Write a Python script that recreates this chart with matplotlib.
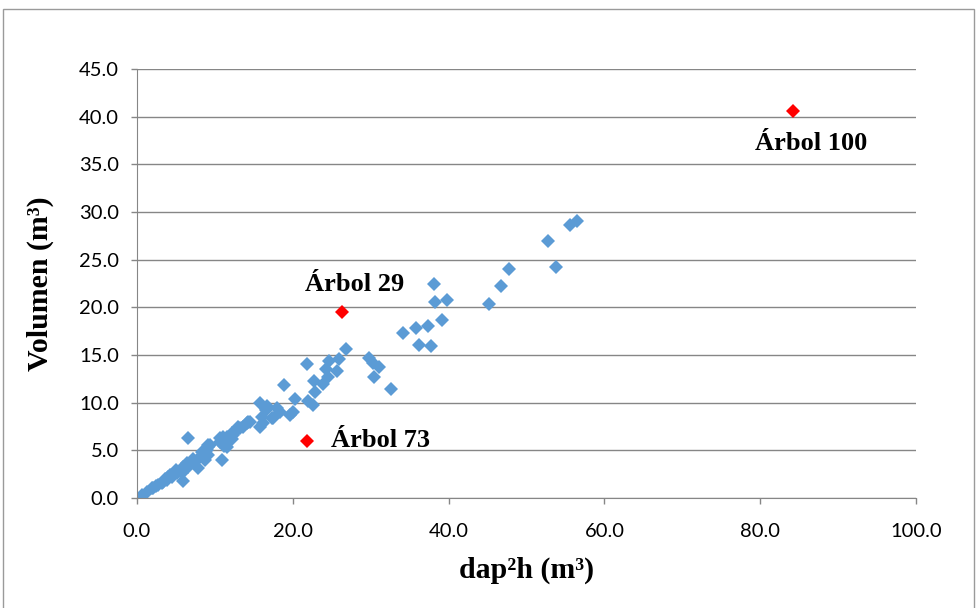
import matplotlib.pyplot as plt
from matplotlib.patches import Rectangle

# dap^2h (m3) vs volume (m3), regular trees
dap2h = [56.5, 55.6, 52.8, 53.8, 47.8, 46.7, 45.2, 38.1, 38.3, 39.8,
         39.2, 37.4, 35.8, 34.2, 36.2, 37.7, 32.6, 29.8, 30.3, 31.1,
         30.4, 26.8, 25.9, 24.6, 25.7, 24.3, 24.5, 23.9, 22.7, 22.8,
         21.8, 18.9, 20.3, 22.0, 22.6, 15.8, 16.7, 18.0, 18.4, 19.6,
         17.5, 16.2, 16.0, 17.3, 14.5, 15.8, 13.6, 13.0, 14.1, 13.2,
         12.8, 12.3, 12.2, 11.6, 11.0, 10.7, 11.9, 11.6, 11.2, 10.9,
         9.4, 9.1, 9.0, 8.7, 8.1, 8.7, 6.5, 7.8, 7.1, 6.5,
         6.4, 5.9, 5.8, 5.8, 5.9, 4.9, 5.1, 4.5, 4.0, 3.9,
         3.3, 3.2, 2.7, 2.1, 1.9, 1.3, 0.6, 8.3, 9.1, 9.1,
         14.2, 12.2, 10.7, 7.2, 5.0, 4.2, 3.6, 2.4, 16.5, 20.0]
volumen = [29.1, 28.6, 27.0, 24.2, 24.0, 22.2, 20.4, 22.4, 20.6, 20.8,
           18.7, 18.0, 17.8, 17.3, 16.1, 15.9, 11.4, 14.7, 14.2, 13.7,
           12.7, 15.6, 14.6, 14.4, 13.3, 13.5, 12.7, 12.0, 12.3, 11.1,
           14.1, 11.9, 10.4, 10.2, 9.8, 10.0, 9.6, 9.4, 9.0, 8.7,
           8.4, 7.9, 8.5, 8.4, 8.0, 7.5, 7.5, 7.5, 7.9, 7.3,
           7.1, 6.6, 6.8, 6.4, 6.4, 6.3, 6.1, 5.4, 5.5, 4.0,
           5.6, 5.6, 5.0, 5.0, 4.3, 4.0, 6.3, 3.1, 3.8, 3.3,
           3.7, 3.3, 2.6, 2.9, 1.8, 2.7, 2.6, 2.2, 2.2, 1.9,
           1.7, 1.6, 1.4, 1.0, 1.0, 0.6, 0.3, 4.8, 5.4, 4.5,
           8.0, 6.2, 5.9, 4.1, 2.9, 2.4, 2.0, 1.3, 9.2, 9.0]

# outlier trees
out_x = [84.2, 26.3, 21.8]
out_y = [40.6, 19.5, 6.0]
out_labels = ['Árbol 100', 'Árbol 29', 'Árbol 73']
label_pos = [(86.5, 37.2, 'center'), (27.9, 22.4, 'center'), (24.9, 6.0, 'left')]

fig = plt.figure(figsize=(9.78, 6.08), dpi=100)
fig.patches.append(Rectangle((3 / 978, -0.01), 971 / 978, 1 - 9 / 608 + 0.01,
                             transform=fig.transFigure, fill=False,
                             edgecolor='#9a9a9a', lw=1))
ax = fig.add_axes([137 / 978, 1 - 498 / 608, (916 - 137) / 978, (498 - 69) / 608])

ax.plot(dap2h, volumen, 'D', color='#5B9BD5', markersize=7, markeredgewidth=0)
ax.plot(out_x, out_y, 'D', color='#FF0000', markersize=7, markeredgewidth=0)

for (tx, ty, ha), lab in zip(label_pos, out_labels):
    ax.text(tx, ty, lab, ha=ha, va='center', fontsize=19, fontweight='bold',
            family='Liberation Serif')

ax.set_xlim(0, 100)
ax.set_ylim(0, 45)
ax.set_xticks(range(0, 101, 20))
ax.set_yticks(range(0, 46, 5))
ax.set_xticklabels([f'{v:.1f}' for v in range(0, 101, 20)])
ax.set_yticklabels([f'{v:.1f}' for v in range(0, 46, 5)])
for lab in ax.get_xticklabels() + ax.get_yticklabels():
    lab.set_family('Lato')
    lab.set_fontsize(14.5)
ax.tick_params(axis='both', length=4, color='#868686', width=1)
ax.tick_params(axis='x', pad=14)
ax.tick_params(axis='y', pad=9)

ax.grid(axis='y', color='#868686', lw=1)
ax.set_axisbelow(True)
for s in ['top', 'right']:
    ax.spines[s].set_visible(False)
for s in ['left', 'bottom']:
    ax.spines[s].set_color('#868686')

ax.set_xlabel('dap²h (m³)', fontsize=21.5, fontweight='bold', family='Liberation Serif',
              labelpad=12)
ax.set_ylabel('Volumen (m³)', fontsize=21.5, fontweight='bold', family='Liberation Serif',
              labelpad=18)

fig.savefig('out.png', dpi=100)
